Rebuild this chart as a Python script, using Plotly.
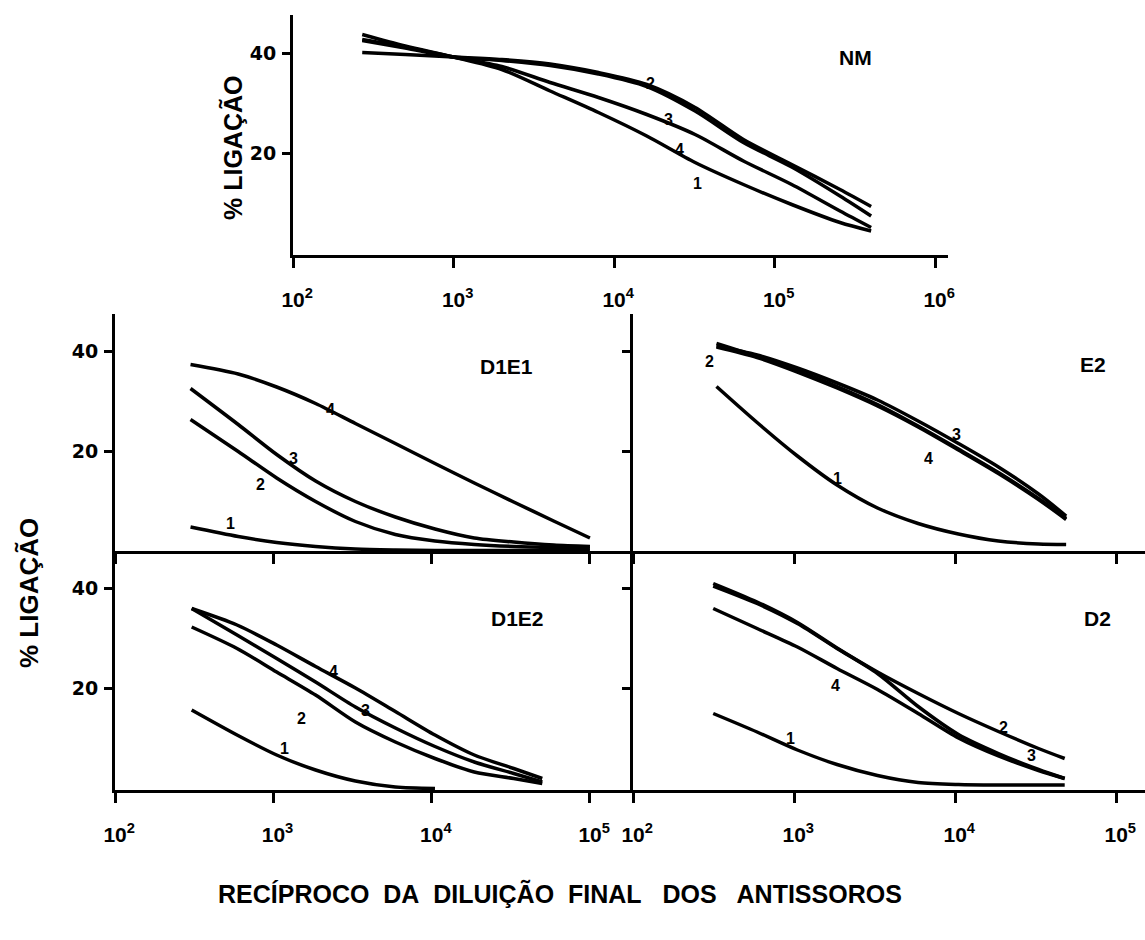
import math
import plotly.graph_objects as go

# ---------------- data ----------------
# NM panel
nm_x = [270, 500, 1000, 2000, 4000, 8000, 16000, 32000, 64000, 128000, 256000, 400000]
nm_1 = [43.7, 41.4, 39.2, 36.7, 32.4, 28.1, 23.4, 18.1, 13.7, 9.7, 6.1, 4.4]
nm_2 = [40.1, 39.7, 39.2, 38.7, 37.8, 36.1, 33.7, 29.1, 22.7, 17.7, 12.7, 9.3]
nm_3 = [42.5, 41.0, 39.2, 38.5, 37.5, 35.8, 33.3, 28.4, 22.1, 17.2, 11.4, 7.4]
nm_4 = [42.7, 41.2, 39.2, 37.3, 34.1, 31.1, 27.7, 23.7, 18.4, 13.7, 8.4, 5.1]

# D1E1 panel
d1e1_x = [300, 600, 1050, 1850, 3300, 5900, 10500, 18600, 33000, 59000, 100000]
d1e1_1 = [4.8, 2.9, 1.7, 0.9, 0.4, 0.2, 0.1, 0.1, 0.1, 0.1, 0.1]
d1e1_2 = [26.3, 19.9, 14.6, 9.9, 5.9, 3.3, 2.0, 1.3, 0.9, 0.7, 0.6]
d1e1_3 = [32.5, 25.3, 19.3, 14.0, 9.9, 6.8, 4.4, 2.6, 1.8, 1.2, 0.9]
d1e1_4 = [37.3, 35.4, 32.8, 29.5, 25.5, 21.5, 17.5, 13.6, 9.8, 6.0, 2.6]

# E2 panel
e2_x = [330, 590, 1050, 1850, 3300, 5900, 10500, 18600, 33000, 49000]
e2_1 = [32.9, 25.7, 19.0, 13.2, 8.6, 5.5, 3.4, 2.0, 1.4, 1.3]
e2_2 = [41.5, 38.9, 36.0, 32.9, 29.3, 25.0, 20.4, 15.7, 10.5, 6.5]
e2_3 = [41.0, 39.2, 36.6, 33.6, 30.2, 26.0, 21.5, 16.8, 11.4, 7.0]
e2_4 = [40.8, 38.7, 35.8, 32.6, 29.0, 24.8, 20.2, 15.5, 10.3, 6.3]

# D1E2 panel
d1e2_x = [305, 590, 1050, 1850, 3300, 5900, 10500, 18600, 33000, 50000]
d1e2_1 = [15.7, 10.7, 6.7, 3.7, 1.5, 0.3, 0.0, None, None, None]
d1e2_2 = [32.3, 28.0, 23.3, 18.7, 13.3, 9.3, 6.0, 3.3, 2.0, 1.0]
d1e2_3 = [36.0, 30.7, 26.0, 21.3, 16.3, 12.1, 8.4, 5.3, 3.0, 1.3]
d1e2_4 = [36.0, 32.7, 28.7, 24.4, 20.1, 15.4, 10.7, 6.7, 4.0, 2.0]

# D2 panel
d2_x = [315, 590, 1050, 1850, 3300, 5900, 10500, 18600, 33000, 48000]
d2_1 = [15.0, 11.3, 7.7, 4.8, 2.6, 1.2, 0.8, 0.7, 0.7, 0.7]
d2_2 = [41.0, 37.3, 33.2, 28.1, 23.3, 19.0, 15.0, 11.4, 8.0, 6.0]
d2_3 = [40.5, 37.0, 33.0, 28.0, 23.0, 16.4, 10.8, 7.0, 3.8, 2.0]
d2_4 = [36.0, 32.0, 28.3, 24.0, 19.8, 15.0, 10.1, 6.5, 3.6, 2.0]

x_tick_vals = [100, 1000, 10000, 100000, 1000000]
x_tick_text = ["\u2009\u200910<sup>2</sup>", "\u2009\u200910<sup>3</sup>", "\u2009\u200910<sup>4</sup>",
               "\u2009\u200910<sup>5</sup>", "\u2009\u200910<sup>6</sup>"]
y_tick_vals = [20, 40]
y_tick_text = ["20", "40"]

panel_names = ["NM", "D1E1", "E2", "D1E2", "D2"]
y_title = "% LIGAÇÃO"
x_title = "RECÍPROCO\u00a0 DA\u00a0 DILUIÇÃO\u00a0 FINAL\u00a0\u00a0 DOS\u00a0\u00a0 ANTISSOROS"

# curve labels: (panel, label, x value, y value)
curve_labels = [
    ("NM", "2", 17000, 34.0), ("NM", "3", 21900, 26.8), ("NM", "4", 25700, 20.8), ("NM", "1", 33100, 14.0),
    ("D1E1", "4", 2290, 28.3), ("D1E1", "3", 1350, 18.6), ("D1E1", "2", 830, 13.3), ("D1E1", "1", 540, 5.6),
    ("E2", "2", 300, 38.0), ("E2", "3", 10200, 23.3), ("E2", "4", 6840, 18.6), ("E2", "1", 1860, 14.6),
    ("D1E2", "4", 2400, 23.4), ("D1E2", "3", 3800, 15.7), ("D1E2", "2", 1510, 14.0), ("D1E2", "1", 1170, 8.0),
    ("D2", "2", 20000, 12.3), ("D2", "3", 30000, 6.7), ("D2", "4", 1820, 20.7), ("D2", "1", 955, 10.0),
]

# ---------------- layout geometry ----------------
W, H = 1145, 940

def fx(px):
    return px / W

def fy(py):
    return 1 - py / H

panels = {
    "NM":   ("x",  "y",  (293, 948), (255, 15), [2, 6.081], [-0.4, 47.6], True, True),
    "D1E1": ("x2", "y2", (115, 633), (551, 314), [2, 5.272], [0, 47.4], False, True),
    "E2":   ("x3", "y3", (633, 1145), (551, 314), [2, 5.18], [0, 47.4], False, False),
    "D1E2": ("x4", "y4", (115, 633), (790, 551), [2, 5.272], [-0.3, 47.5], True, True),
    "D2":   ("x5", "y5", (633, 1145), (790, 551), [2, 5.18], [-0.3, 47.5], True, False),
}

series = {
    "NM": (nm_x, [nm_1, nm_2, nm_3, nm_4]),
    "D1E1": (d1e1_x, [d1e1_1, d1e1_2, d1e1_3, d1e1_4]),
    "E2": (e2_x, [e2_1, e2_2, e2_3, e2_4]),
    "D1E2": (d1e2_x, [d1e2_1, d1e2_2, d1e2_3, d1e2_4]),
    "D2": (d2_x, [d2_1, d2_2, d2_3, d2_4]),
}

FONT = "Liberation Sans"

fig = go.Figure()
for name, (xs, ys_list) in series.items():
    xa, ya = panels[name][0], panels[name][1]
    for ys in ys_list:
        fig.add_trace(go.Scatter(
            x=xs, y=ys, mode="lines", xaxis=xa, yaxis=ya, showlegend=False,
            line=dict(color="black", width=3.5, shape="spline", smoothing=0.8),
            hoverinfo="skip", connectgaps=False,
        ))

layout = dict(
    width=W, height=H, autosize=False,
    margin=dict(l=0, r=0, t=0, b=0, pad=0, autoexpand=False),
    paper_bgcolor="white", plot_bgcolor="white",
    showlegend=False,
)

for name, (xa, ya, xd, yd, xr, yr, sx, sy) in panels.items():
    xkey = "xaxis" + xa[1:]
    ykey = "yaxis" + ya[1:]
    layout[xkey] = dict(
        type="log", domain=[fx(xd[0]), fx(xd[1])], range=xr, anchor=ya,
        showline=True, linecolor="black", linewidth=3, mirror=False,
        showgrid=False, zeroline=False, automargin=False,
        tickmode="array", tickvals=x_tick_vals, ticktext=x_tick_text,
        ticks="outside", ticklen=10, tickwidth=2.5, tickcolor="black",
        showticklabels=sx, ticklabelstandoff=14,
        tickfont=dict(family=FONT, size=21, color="black", weight="bold"),
        fixedrange=True,
    )
    layout[ykey] = dict(
        domain=[fy(yd[0]), fy(yd[1])], range=yr, anchor=xa,
        showline=True, linecolor="black", linewidth=3, mirror=False,
        showgrid=False, zeroline=False, automargin=False,
        tickmode="array", tickvals=y_tick_vals, ticktext=y_tick_text,
        ticks="outside", ticklen=8, tickwidth=2.5, tickcolor="black",
        showticklabels=sy, ticklabelstandoff=2,
        tickfont=dict(family="DejaVu Sans", size=19, color="black", weight="bold"),
        fixedrange=True,
    )

annotations = []
label_pos = {"NM": (855, 57), "D1E1": (506, 366), "E2": (1093, 364), "D1E2": (517, 618), "D2": (1097, 618)}
for name in panel_names:
    px, py = label_pos[name]
    annotations.append(dict(
        text=name, x=fx(px), y=fy(py), xref="paper", yref="paper", showarrow=False,
        xanchor="center", yanchor="middle",
        font=dict(family=FONT, size=21, color="black", weight="bold"),
    ))

for name, lab, lx, ly in curve_labels:
    xa, ya = panels[name][0], panels[name][1]
    annotations.append(dict(
        text=lab, x=math.log10(lx), y=ly, xref=xa, yref=ya, showarrow=False,
        xanchor="center", yanchor="middle",
        font=dict(family=FONT, size=16, color="black", weight="bold"),
    ))

annotations.append(dict(
    text=y_title, x=fx(232), y=fy(148), xref="paper", yref="paper", showarrow=False,
    textangle=-90, xanchor="center", yanchor="middle",
    font=dict(family=FONT, size=25, color="black", weight="bold"),
))
annotations.append(dict(
    text=y_title, x=fx(29), y=fy(593), xref="paper", yref="paper", showarrow=False,
    textangle=-90, xanchor="center", yanchor="middle",
    font=dict(family=FONT, size=26, color="black", weight="bold"),
))
annotations.append(dict(
    text=x_title, x=fx(560), y=fy(893), xref="paper", yref="paper", showarrow=False,
    xanchor="center", yanchor="middle",
    font=dict(family=FONT, size=25, color="black", weight="bold"),
))

layout["annotations"] = annotations
fig.update_layout(**layout)
fig.write_html("out.html")
